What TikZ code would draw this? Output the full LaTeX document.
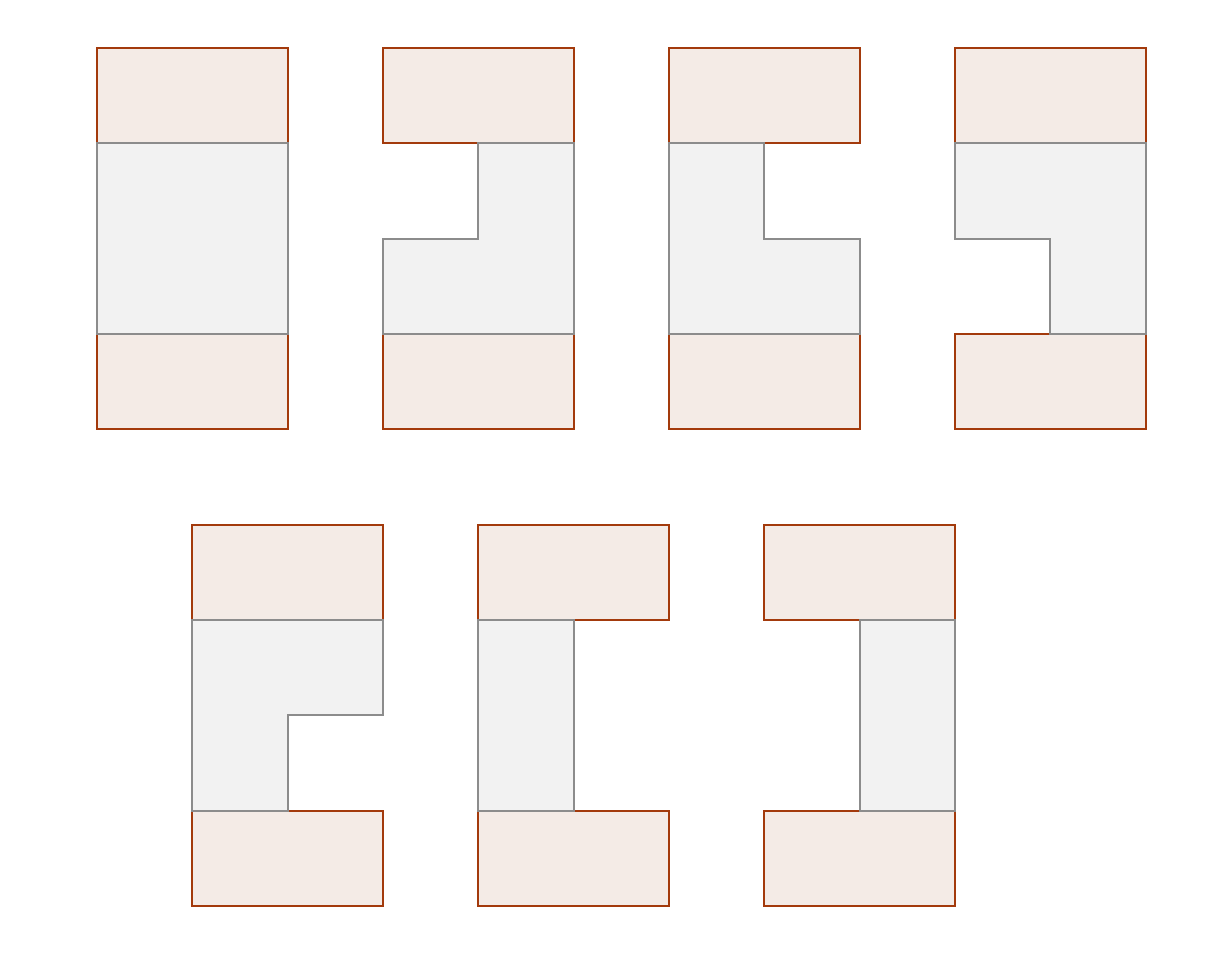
\documentclass[tikz,border=0pt]{standalone}
\begin{document}
\begin{tikzpicture}[
  endbox/.style={draw=orange!60!black!90!red, fill=endfill, line width=0.6pt},
  midbox/.style={draw=midline, fill=midfill, line width=0.6pt}]
\definecolor{endfill}{HTML}{F4EBE6}
\definecolor{midfill}{HTML}{F2F2F2}
\definecolor{midline}{HTML}{8C8C8C}
\definecolor{endline}{HTML}{A33A0C}
\tikzset{endbox/.style={draw=endline, fill=endfill, line width=0.6pt}}
\useasboundingbox (-1.0175,0.5035) rectangle (11.822,-9.588);
% row 1 end boxes
\foreach \c in {0,3,6,9} {
  \draw[endbox] (\c,0) rectangle (\c+2,-1);
  \draw[endbox] (\c,-3) rectangle (\c+2,-4);
}
% row 2 end boxes
\foreach \c in {1,4,7} {
  \draw[endbox] (\c,-5) rectangle (\c+2,-6);
  \draw[endbox] (\c,-8) rectangle (\c+2,-9);
}
% middles row 1
\draw[midbox] (0,-1) rectangle (2,-3);
\draw[midbox] (4,-1) -- (5,-1) -- (5,-3) -- (3,-3) -- (3,-2) -- (4,-2) -- cycle;
\draw[midbox] (6,-1) -- (7,-1) -- (7,-2) -- (8,-2) -- (8,-3) -- (6,-3) -- cycle;
\draw[midbox] (9,-1) -- (11,-1) -- (11,-3) -- (10,-3) -- (10,-2) -- (9,-2) -- cycle;
% middles row 2
\draw[midbox] (1,-6) -- (3,-6) -- (3,-7) -- (2,-7) -- (2,-8) -- (1,-8) -- cycle;
\draw[midbox] (4,-6) rectangle (5,-8);
\draw[midbox] (8,-6) rectangle (9,-8);
\end{tikzpicture}
\end{document}
